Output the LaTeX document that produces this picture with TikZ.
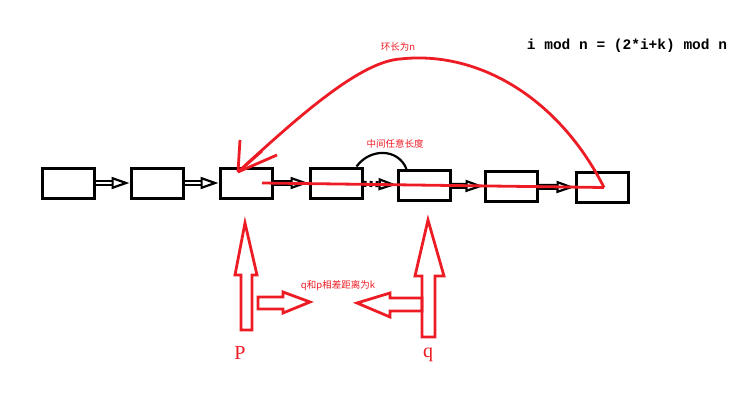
\documentclass[tikz,border=0pt]{standalone}
\usepackage{fontspec}
\usepackage{tikz}
\usetikzlibrary{arrows.meta}
\usetikzlibrary{positioning}
\setmainfont{Liberation Serif}
\newfontfamily\cjk{Noto Sans CJK SC}
\newfontfamily\formulafont{Liberation Mono}
\definecolor{paintred}{RGB}{237,28,36}
\tikzset{listbox/.style = {draw, line width = 3pt, minimum width = 52pt, minimum height = 30pt, inner sep = 0}}
\tikzset{hollow/.style = {draw, line width = 2pt, double = white, double distance = 2pt,
                          -{Triangle[open, length = 18pt, width = 12pt, line width = 2.2pt]}}}
\tikzset{redline/.style = {paintred, line width = 2.8pt}}
\tikzset{blockarrow/.style = {draw = paintred, line width = 2.8pt, line join = miter}}
\tikzset{cnote/.style = {text = paintred, font = \cjk\fontsize{9.5}{10}\selectfont, inner sep = 1pt}}

\begin{document}
\begin{tikzpicture}[x = 1pt, y = -1pt]
    \useasboundingbox (0, 0) rectangle (739, 404);

    \node [listbox] (1) at (68, 183) {};
    \node [listbox] (2) at (157, 183) {};
    \node [listbox] (3) at (246, 183) {};
    \node [listbox] (4) at (336, 183) {};
    \node [listbox] (5) at (424, 185.5) {};
    \node [listbox] (6) at (511, 186.5) {};
    \node [listbox] (7) at (602, 187.5) {};

    \draw [hollow] (1) -- (2);
    \draw [hollow] (2) -- (3);
    \draw [hollow] (3) -- (4);
    \draw [hollow, dashed] (4) -- (5);
    \draw [hollow] (5) -- (6);
    \draw [hollow] (6) -- (7);

    % middle part of any length
    \draw [line width = 2.2pt] ([xshift = -7pt]4.north east) .. controls (370, 148) and (398, 148) .. ([xshift = 10pt]5.north west);
    \node [cnote] (mid) at (395, 144) {中间任意长度};

    % the ring
    \coordinate (start) at ([xshift = 16pt]3.center);
    \coordinate (end) at ([xshift = 2pt]7.center);
    \coordinate (top) at (400, 59);
    \coordinate (tip) at (238, 172);
    \draw [redline] (start) -- (end);
    \draw [redline] (end) .. controls (560, 100) and (480, 50) .. (top) .. controls (360, 62) and (300, 115) .. (tip);
    \draw [redline] (tip) -- (240, 140);
    \draw [redline] (tip) -- (262, 151);
    \draw [redline] (tip) -- (277, 155);
    \node [cnote] (ring) at (398, 47) {环长为n};

    \node [font = \formulafont\bfseries\fontsize{14.5}{16}\selectfont] (formula) at (627, 46) {i mod n = (2*i+k) mod n};

    % p and q
    \draw [blockarrow] (245, 223) -- (257, 275) -- (252, 275) -- (252, 330) -- (241, 330) -- (241, 275) -- (235, 275) -- cycle;
    \draw [blockarrow] (258, 297) -- (283, 297) -- (283, 292) -- (310, 302) -- (283, 313) -- (283, 309) -- (258, 309) -- cycle;
    \draw [blockarrow] (428, 220) -- (444, 276) -- (435, 276) -- (435, 337) -- (422, 337) -- (422, 276) -- (415, 276) -- cycle;
    \draw [blockarrow] (422, 298) -- (390, 298) -- (390, 293) -- (357, 303) -- (390, 317) -- (390, 311) -- (422, 311) -- cycle;
    \node [cnote] (gap) at (338, 286) {q和p相差距离为k};
    \node [text = paintred, font = \fontsize{20}{22}\selectfont] (p) at (240, 353) {P};
    \node [text = paintred, font = \fontsize{20}{22}\selectfont] (q) at (428, 355) {q};
\end{tikzpicture}
\end{document}
